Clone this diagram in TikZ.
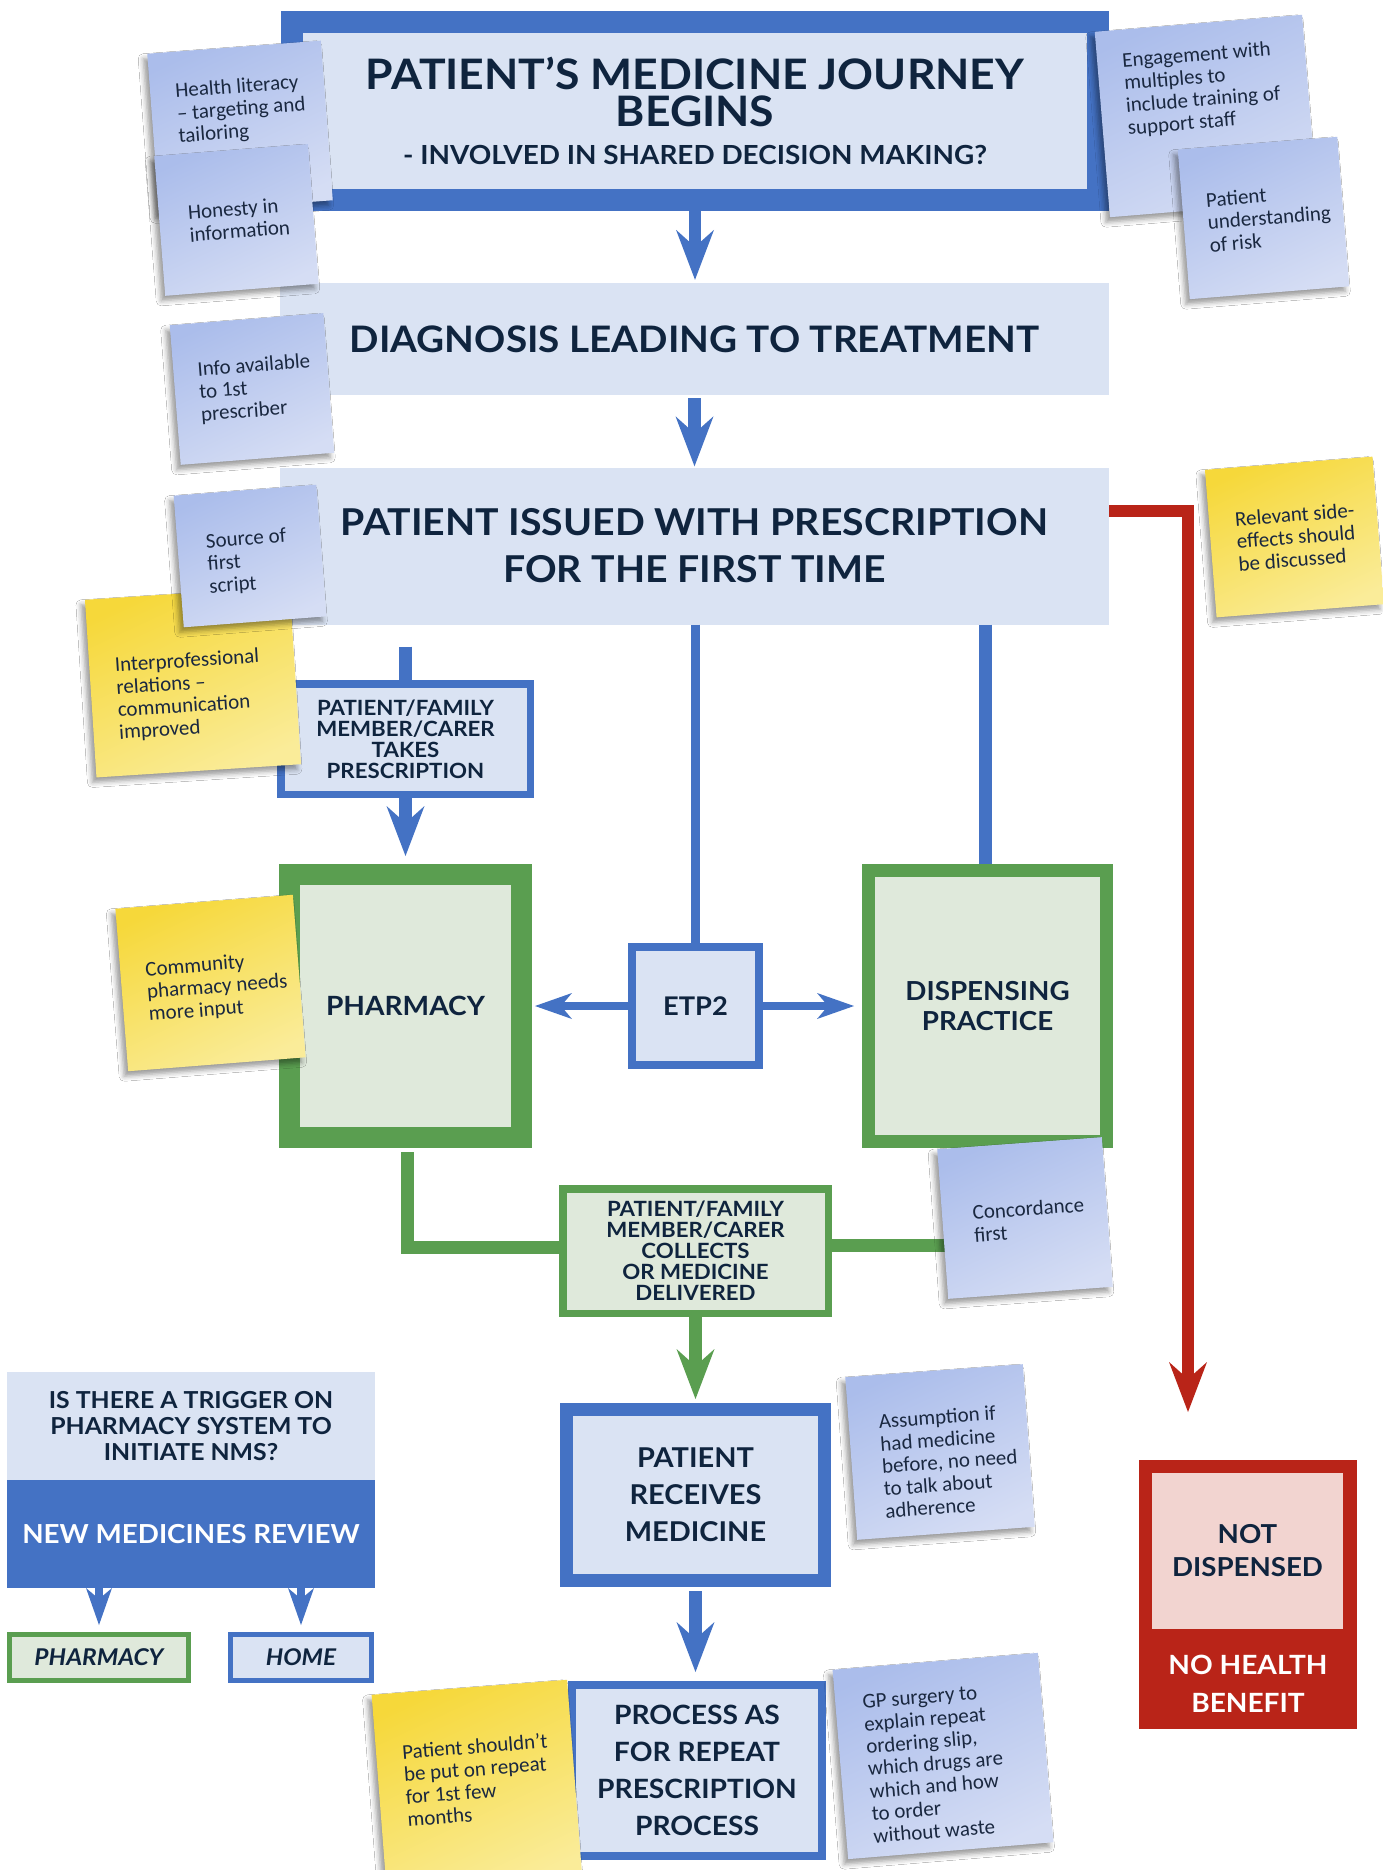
\documentclass[tikz,border=0pt]{standalone}
\usepackage{fontspec}
\setmainfont{Lato}[FakeStretch=1.06]
\newfontfamily\notefont{Carlito}
\usetikzlibrary{arrows.meta, shadows.blur}

\definecolor{jblue}{HTML}{4472C4}
\definecolor{jbluelt}{HTML}{DAE3F3}
\definecolor{jgreen}{HTML}{5A9E50}
\definecolor{jgreenlt}{HTML}{DFE9DB}
\definecolor{jred}{HTML}{B92418}
\definecolor{jpink}{HTML}{F2D4D0}
\definecolor{jnavy}{HTML}{0F243E}
\definecolor{noteink}{HTML}{1A2840}
\definecolor{bnoteA}{HTML}{ABBDEB}
\definecolor{bnoteB}{HTML}{D5DDF4}
\definecolor{ynoteA}{HTML}{F6D83A}
\definecolor{ynoteB}{HTML}{FAEC99}

\tikzset{
  box/.style={inner sep=0pt, align=center, text=jnavy},
  bframe/.style={box, draw=jblue, fill=jbluelt},
  gframe/.style={box, draw=jgreen, fill=jgreenlt},
  bplain/.style={box, fill=jbluelt},
  bigfont/.style={font=\bfseries\fontsize{#1}{#1}\selectfont},
  conn/.style={line width=13pt},
  flowarrow/.style={line width=12.5pt, -{Stealth[length=50pt, width=38pt, inset=17pt, line width=0pt]}},
  sidearrow/.style={line width=8.5pt, -{Stealth[length=37pt, width=26pt, inset=11pt, line width=0pt]}},
  notetext/.style={inner sep=0pt, align=left, text=noteink, font=\notefont\fontsize{21}{22.5}\selectfont},
  noteshadow/.style={blur shadow={shadow xshift=-4pt, shadow yshift=-5pt, shadow blur radius=5pt, shadow opacity=40}},
  bluenote/.style={noteshadow, top color=bnoteA, bottom color=bnoteB, shading angle=25},
  yellownote/.style={noteshadow, top color=ynoteA, bottom color=ynoteB, shading angle=25},
}

% #1 name, #2 centre, #3 width, #4 height, #5 tilt, #6 note style, #7 text position, #8 text
\newcommand{\stickynote}[8]{%
  \begin{scope}[shift={(#2)}, rotate=#5, transform shape]
    \node[#6, minimum width=#3pt, minimum height=#4pt, inner sep=0pt] (#1) at (0,0) {};
    \node[notetext, anchor=west] (#1-text) at (#7) {#8};
  \end{scope}}

\begin{document}
\begin{tikzpicture}[x=1pt, y=-1pt]
\useasboundingbox (0,0) rectangle (1382,1870);
\fill[white] (0,0) rectangle (1382,1870);

% main flow boxes
\node[bframe, line width=22pt, minimum width=806pt, minimum height=178pt,
      font=\bfseries\fontsize{42}{37}\selectfont] (top) at (695,111)
  {PATIENT’S MEDICINE JOURNEY\\BEGINS\\[1pt]\fontsize{26.3}{37}\selectfont - INVOLVED IN SHARED DECISION MAKING?};
\node[bplain, minimum width=829pt, minimum height=112pt, bigfont=36.5] (diag) at (694.5,339)
  {DIAGNOSIS LEADING TO TREATMENT};
\node[bplain, minimum width=829pt, minimum height=157pt,
      font=\bfseries\fontsize{37}{47}\selectfont] (presc) at (694.5,546)
  {PATIENT ISSUED WITH PRESCRIPTION\\FOR THE FIRST TIME};
\node[bframe, line width=7.5pt, minimum width=249.5pt, minimum height=110.5pt,
      font=\bfseries\fontsize{21}{21}\selectfont] (takes) at (405.5,739)
  {PATIENT/FAMILY\\MEMBER/CARER\\TAKES\\PRESCRIPTION};
\node[gframe, line width=21pt, minimum width=232pt, minimum height=263pt, bigfont=26.5] (phar) at (405.5,1006)
  {PHARMACY};
\node[bframe, line width=8pt, minimum width=127pt, minimum height=118pt, bigfont=25.7] (etp) at (695.5,1006)
  {ETP2};
\node[gframe, line width=13pt, minimum width=238pt, minimum height=271pt,
      font=\bfseries\fontsize{26.2}{30}\selectfont] (disp) at (987.5,1006)
  {DISPENSING\\PRACTICE};
\node[gframe, line width=7.5pt, minimum width=265.5pt, minimum height=124.5pt,
      font=\bfseries\fontsize{21}{21}\selectfont] (collect) at (695.5,1251)
  {PATIENT/FAMILY\\MEMBER/CARER\\COLLECTS\\OR MEDICINE\\DELIVERED};
\node[bframe, line width=13pt, minimum width=258pt, minimum height=171pt,
      font=\bfseries\fontsize{27.3}{37}\selectfont] (recv) at (695.5,1495)
  {PATIENT\\RECEIVES\\MEDICINE};
\node[bframe, line width=8pt, minimum width=250pt, minimum height=171pt,
      font=\bfseries\fontsize{26.6}{37}\selectfont] (proc) at (697,1770.5)
  {PROCESS AS\\FOR REPEAT\\PRESCRIPTION\\PROCESS};

% not dispensed outcome
\node[box, fill=jred, minimum width=218pt, minimum height=269pt] (notdisp) at (1248,1594.5) {};
\node[box, fill=jpink, minimum width=191pt, minimum height=156pt,
      font=\bfseries\fontsize{26.1}{33}\selectfont] (notdispin) at (1247.5,1551)
  {NOT\\DISPENSED};
\node[box, text=white, font=\bfseries\fontsize{26.5}{38}\selectfont] (nobenefit) at (1248,1684)
  {NO HEALTH\\BENEFIT};
\coordinate (redend) at (1188,1412);

% new medicines review panel
\node[bplain, minimum width=368pt, minimum height=108pt,
      font=\bfseries\fontsize{23.4}{26}\selectfont] (nmsq) at (191,1426)
  {IS THERE A TRIGGER ON\\PHARMACY SYSTEM TO\\INITIATE NMS?};
\node[box, fill=jblue, text=white, minimum width=368pt, minimum height=108pt, bigfont=26.2] (nmsreview) at (191,1534)
  {NEW MEDICINES REVIEW};
\node[gframe, line width=5pt, minimum width=179pt, minimum height=46pt,
      font=\bfseries\itshape\fontsize{23.1}{23}\selectfont] (pharsmall) at (99,1657.5) {PHARMACY};
\node[bframe, line width=5pt, minimum width=141pt, minimum height=46pt,
      font=\bfseries\itshape\fontsize{23}{23}\selectfont] (home) at (301,1657.5) {HOME};

% connectors
\draw[jblue, flowarrow] ([yshift=2pt]top.south) -- ([yshift=3pt]diag.north -| top.south);
\draw[jblue, flowarrow] ([yshift=-3pt]diag.south) -- ([yshift=1pt]presc.north);
\draw[jblue, conn] ([yshift=-22pt]presc.south -| takes.north) -- (takes.north);
\draw[jblue, flowarrow] (takes.south) -- ([yshift=8pt]phar.north);
\draw[jblue, line width=9.5pt] (etp.north |- presc.south) -- (etp.north);
\draw[jblue, conn] ([xshift=-2.5pt]disp.north |- presc.south) -- ([xshift=-2.5pt]disp.north);
\draw[jblue, sidearrow] (etp.west) -- ([xshift=3pt]phar.east);
\draw[jblue, sidearrow] (etp.east) -- ([xshift=-8pt]disp.west);
\draw[jgreen, conn, line join=miter] ([xshift=1.5pt, yshift=-4pt]phar.south) |- ([yshift=4pt]collect.west);
\draw[jgreen, conn, line join=miter] (disp.south) |- ([yshift=6pt]collect.east);
\draw[jgreen, flowarrow] (collect.south) -- ([yshift=4pt]recv.north);
\draw[jblue, flowarrow] ([yshift=-4pt]recv.south) -- ([yshift=9pt]proc.north -| recv.south);
\draw[jred, line width=12pt, line join=miter,
      -{Stealth[length=50pt, width=38pt, inset=17pt, line width=0pt]}]
  ([yshift=35pt]presc.east) -| (redend);
\draw[jblue, sidearrow] (nmsreview.south -| pharsmall.north) -- ([yshift=7pt]pharsmall.north);
\draw[jblue, sidearrow] (nmsreview.south -| home.north) -- ([yshift=7pt]home.north);

% sticky notes
\stickynote{n1}{240,127}{174}{160}{4.3}{bluenote}{-62,-17}{Health literacy\\– targeting and\\tailoring}
\stickynote{n2}{236.5,220}{154}{140}{4.5}{bluenote}{-48,0}{Honesty in\\information}
\stickynote{n3}{1206,116}{208}{186}{4.7}{bluenote}{-79,-27}{Engagement with\\multiples to\\include training of\\support staff}
\stickynote{n4}{1263.5,218}{160}{150}{4.6}{bluenote}{-56,0}{Patient\\understanding\\of risk}
\stickynote{n5}{252,389}{154}{140}{4.5}{bluenote}{-53,0}{Info available\\to 1st\\prescriber}
\stickynote{n7}{193,682}{205}{178}{3.7}{yellownote}{-77,13}{Interprofessional\\relations –\\communication\\improved}
\stickynote{n6}{250,556}{143}{132}{4.4}{bluenote}{-43,6}{Source of\\first\\script}
\stickynote{n8}{1294.5,537}{168}{148}{4.5}{yellownote}{-58,0}{Relevant side-\\effects should\\be discussed}
\stickynote{n9}{210.5,983}{178}{163}{4.5}{yellownote}{-64,5}{Community\\pharmacy needs\\more input}
\stickynote{n10}{1025,1218}{165}{150}{4.2}{bluenote}{-52,2}{Concordance\\first}
\stickynote{n11}{940,1452}{178}{163}{4.2}{bluenote}{-59,10}{Assumption if\\had medicine\\before, no need\\to talk about\\adherence}
\stickynote{n12}{943,1756}{206}{190}{4.7}{bluenote}{-76,7}{GP surgery to\\explain repeat\\ordering slip,\\which drugs are\\which and how\\to order\\without waste}
\stickynote{n13}{477,1787}{196}{200}{4.4}{yellownote}{-72,-7}{Patient shouldn’t\\be put on repeat\\for 1st few\\months}

\end{tikzpicture}
\end{document}
